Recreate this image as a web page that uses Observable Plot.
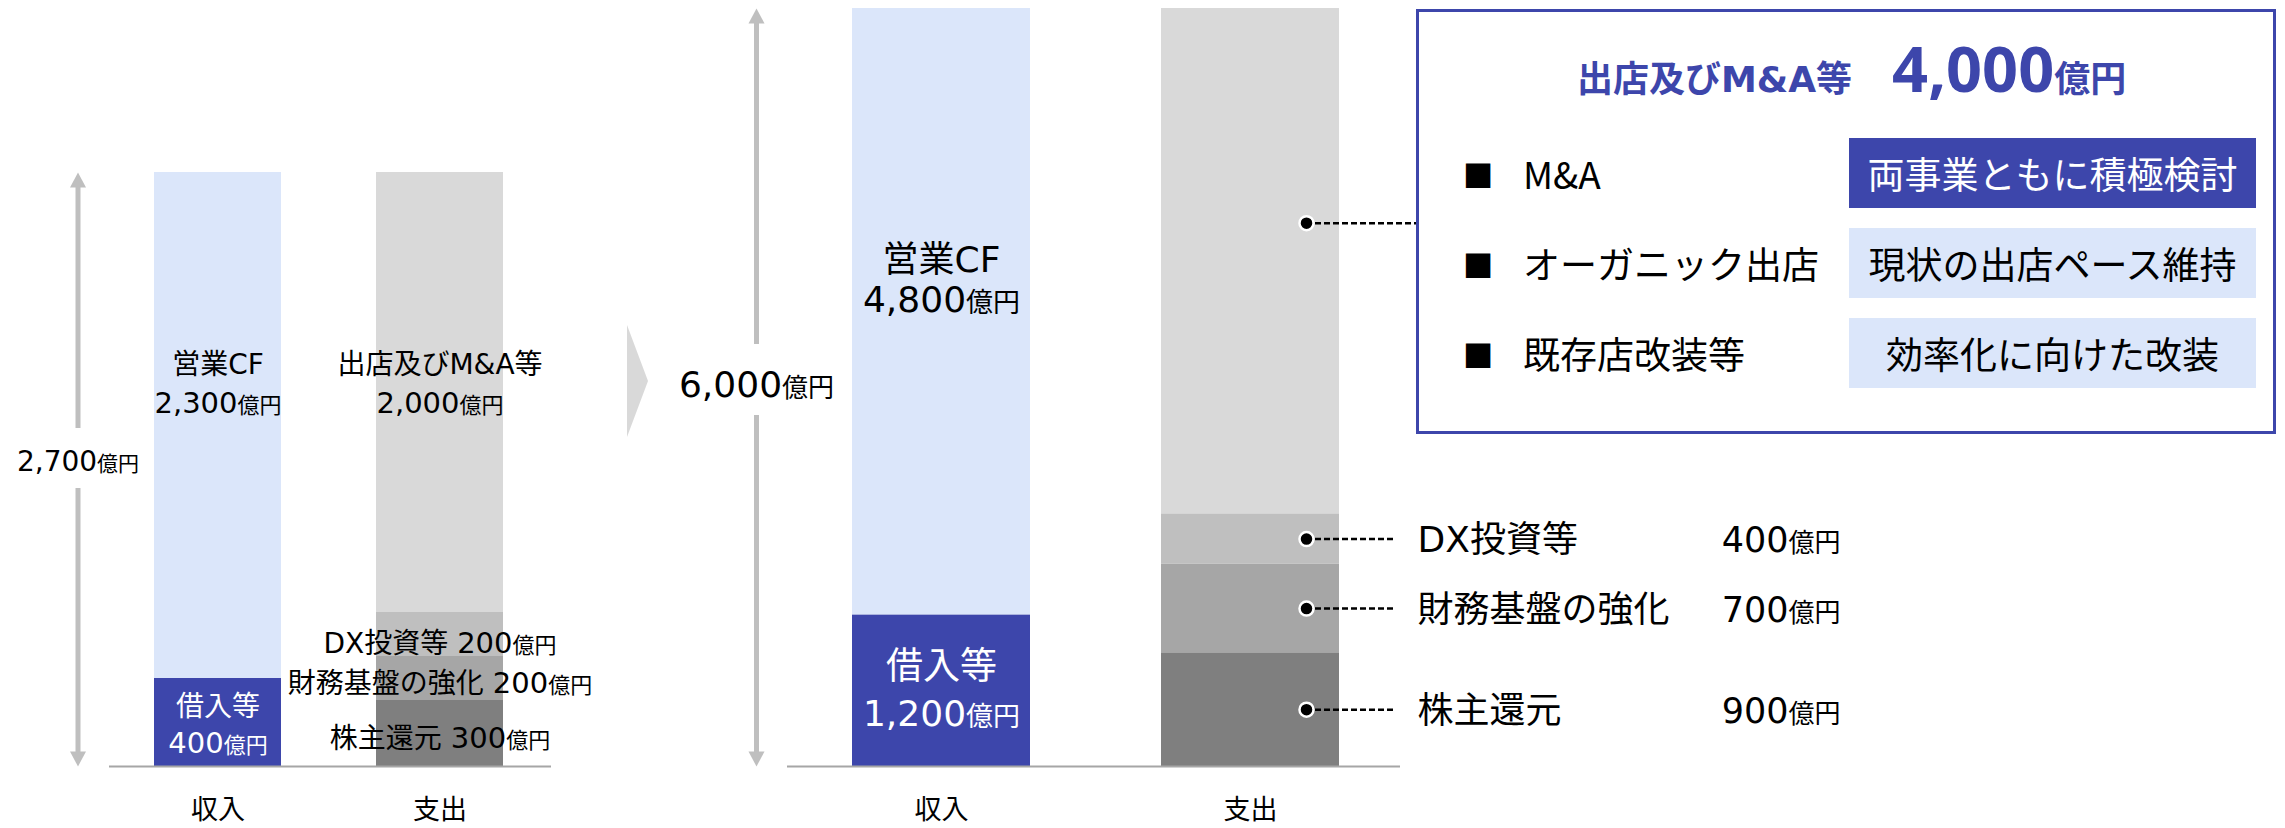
<!DOCTYPE html>
<html>
<head>
<meta charset="utf-8">
<script src="https://cdn.jsdelivr.net/npm/d3@7"></script>
<script src="https://cdn.jsdelivr.net/npm/@observablehq/plot@0.6"></script>
<style>
html, body { margin: 0; padding: 0; background: #fff; }
#root { position: relative; width: 2285px; height: 828px; overflow: hidden; font-family: 'DejaVu Sans', 'Noto Sans CJK JP', sans-serif; }
.wrap { position: absolute; top: 0; height: 828px; }
.chev { position: absolute; left: 627px; top: 325px; width: 21px; height: 112px; background: #d9d9d9; clip-path: polygon(0 0, 100% 50%, 0 100%); }
#box { position: absolute; left: 1416px; top: 9px; width: 860px; height: 425px; border: 3px solid #3d46ab; box-sizing: border-box; background: #fff; }
.ttl { position: absolute; left: 158px; top: 24px; display: flex; align-items: baseline; white-space: nowrap; color: #3d46ab; font-weight: bold; }
.t1 { font-size: 36px; line-height: 1; font-family: 'DejaVu Sans', 'Noto Sans CJK JP', sans-serif; }
.t2 { font-size: 63px; line-height: 1; font-family: 'Noto Sans', sans-serif; margin-left: 40px; }
.t3 { font-size: 36px; line-height: 1; font-family: 'Noto Sans CJK JP', sans-serif; }
.row { position: absolute; left: 0; width: 100%; height: 70px; }
.bullet { position: absolute; left: 44px; top: 0; height: 70px; line-height: 70px; font-size: 32px; font-family: 'DejaVu Sans', sans-serif; }
.lbl { position: absolute; left: 104px; top: 0; height: 70px; line-height: 70px; font-size: 37px; font-family: 'Noto Sans CJK JP', sans-serif; white-space: nowrap; }
.cell { position: absolute; left: 430px; top: 0; width: 407px; height: 70px; display: flex; align-items: center; justify-content: center; background: #dbe6fa; font-size: 37px; font-family: 'Noto Sans CJK JP', sans-serif; white-space: nowrap; }
.cell.hl { background: #3d46ab; color: #fff; }
</style>
</head>
<body>
<div id="root"></div>
<script>
// ---------- data ----------
const categories = ["収入", "支出"];
const incomeItems = ["借入等", "営業CF"];
const expenseItems = ["株主還元", "財務基盤の強化", "DX投資等", "出店及びM&A等"];
const incomeNow = [400, 2300];
const expenseNow = [300, 200, 200, 2000];
const totalNow = 2700;
const incomePlan = [1200, 4800];
const expensePlan = [900, 700, 400, 4000];
const totalPlan = 6000;
const unit = "億円";
const boxTitle = "出店及びM&A等";
const boxAmount = 4000;
const boxItems = ["M&A", "オーガニック出店", "既存店改装等"];
const boxPolicies = ["両事業ともに積極検討", "現状の出店ペース維持", "効率化に向けた改装"];

// ---------- styles ----------
const itemColors = {
  "借入等": "#3d46ab", "営業CF": "#dbe6fa",
  "株主還元": "#7f7f7f", "財務基盤の強化": "#a6a6a6", "DX投資等": "#bfbfbf", "出店及びM&A等": "#d9d9d9"
};
const FONT = "'DejaVu Sans','Noto Sans CJK JP',sans-serif";
const fmt = d3.format(",");
const ctx = document.createElement("canvas").getContext("2d");
const tw = (t, s) => { ctx.font = `${s}px ${FONT}`; return ctx.measureText(t).width; };

function stackRows(incomeVals, expenseVals) {
  const out = [];
  [[incomeItems, incomeVals], [expenseItems, expenseVals]].forEach(([items, vals], k) => {
    let acc = 0;
    items.forEach((item, i) => {
      out.push({cat: categories[k], item, value: vals[i], lo: acc, hi: acc + vals[i], mid: acc + vals[i] / 2});
      acc += vals[i];
    });
  });
  return out;
}
const rowsNow = stackRows(incomeNow, expenseNow);
const rowsPlan = stackRows(incomePlan, expensePlan);
const find = (rows, item) => rows.find(r => r.item === item);

// composite label: parts = [[text, size, gapAfter]]
function label(cat, value, parts, {dx = 0, dy = 0, anchor = "middle", fill = "black"} = {}) {
  const widths = parts.map(([t, s, gap = 0]) => tw(t, s) + gap);
  const total = d3.sum(widths);
  let off = anchor === "middle" ? -total / 2 : anchor === "end" ? -total : 0;
  const big = d3.max(parts, p => p[1]);
  return parts.map(([t, s], i) => {
    const m = Plot.text([t], {
      x: () => cat, y: () => value, text: d => d,
      textAnchor: "start", lineAnchor: "bottom",
      fontSize: s, fill, dx: dx + off, dy: dy + 0.37 * big
    });
    off += widths[i];
    return m;
  });
}
const amount = (v, ns, us) => [[fmt(v), ns], [unit, us]];

const triUp = {draw(c) { c.moveTo(0, 0); c.lineTo(8, 15); c.lineTo(-8, 15); c.closePath(); }};
const triDown = {draw(c) { c.moveTo(0, 0); c.lineTo(8, -15); c.lineTo(-8, -15); c.closePath(); }};

function spanArrow(total, {dx, gapUp, gapDown}) {
  const o = {x: () => categories[0], dx, stroke: "#bfbfbf", strokeWidth: 5};
  return [
    Plot.ruleX([total], {...o, y1: d => d, y2: d => d / 2, insetTop: 12, insetBottom: gapUp}),
    Plot.ruleX([total], {...o, y1: d => d / 2, y2: () => 0, insetTop: gapDown, insetBottom: 12}),
    Plot.dot([total], {x: () => categories[0], y: d => d, dx, symbol: triUp, r: 8, fill: "#bfbfbf"}),
    Plot.dot([0], {x: () => categories[0], y: d => d, dx, symbol: triDown, r: 8, fill: "#bfbfbf"})
  ];
}

const colorScale = {domain: Object.keys(itemColors), range: Object.values(itemColors)};
const root = d3.select("#root");

// ---------- left chart (current) ----------
{
  const cf = find(rowsNow, "営業CF"), loan = find(rowsNow, "借入等"), store = find(rowsNow, "出店及びM&A等");
  const dxr = find(rowsNow, "DX投資等"), fin = find(rowsNow, "財務基盤の強化"), sh = find(rowsNow, "株主還元");
  const sp = tw(" ", 28);
  const chart = Plot.plot({
    width: 620, height: 828, marginTop: 172, marginBottom: 62, marginLeft: 154, marginRight: 117,
    style: {fontFamily: FONT, background: "transparent", overflow: "visible"},
    x: {type: "band", domain: categories, paddingInner: 0.428, paddingOuter: 0, axis: null},
    y: {domain: [0, totalNow], axis: null},
    color: colorScale,
    marks: [
      Plot.barY(rowsNow, {x: "cat", y1: "lo", y2: "hi", fill: "item"}),
      Plot.ruleY([0], {stroke: "#a6a6a6", strokeWidth: 2, insetLeft: -45, insetRight: -48}),
      ...spanArrow(totalNow, {dx: -140, gapUp: 41, gapDown: 19}),
      ...label(categories[0], totalNow / 2, amount(totalNow, 28, 21), {dx: -140, dy: -9}),
      ...label(cf.cat, cf.mid, [[cf.item, 28]], {dy: -62}),
      ...label(cf.cat, cf.mid, amount(cf.value, 29, 22), {dy: -23}),
      ...label(store.cat, store.mid, [[store.item, 28]], {dy: -29}),
      ...label(store.cat, store.mid, amount(store.value, 29, 22), {dy: 10}),
      ...label(loan.cat, loan.mid, [[loan.item, 28]], {dy: -17, fill: "white"}),
      ...label(loan.cat, loan.mid, amount(loan.value, 29, 22), {dy: 20, fill: "white"}),
      ...label(dxr.cat, dxr.mid, [[dxr.item, 28, sp], [fmt(dxr.value), 29], [unit, 22]], {dy: 8}),
      ...label(fin.cat, fin.mid, [[fin.item, 28, sp], [fmt(fin.value), 29], [unit, 22]], {dy: 4}),
      ...label(sh.cat, sh.mid, [[sh.item, 28, sp], [fmt(sh.value), 29], [unit, 22]], {dy: 4}),
      ...categories.flatMap(c => label(c, 0, [[c, 27]], {dy: 43}))
    ]
  });
  root.append("div").attr("class", "wrap").style("left", "0px").style("width", "620px").node().appendChild(chart);
}

// ---------- right chart (plan) ----------
{
  const cf = find(rowsPlan, "営業CF"), loan = find(rowsPlan, "借入等"), store = find(rowsPlan, "出店及びM&A等");
  const callouts = expenseItems.filter(i => i !== store.item).map(i => find(rowsPlan, i));
  const dash = {stroke: "black", strokeWidth: 2.5, strokeDasharray: "6,3", insetLeft: 145};
  const dotStyle = {r: 7, fill: "black", stroke: "white", strokeWidth: 2.5, dx: 56};
  const chart = Plot.plot({
    width: 1625, height: 828, marginTop: 8, marginBottom: 62, marginLeft: 192, marginRight: 946,
    style: {fontFamily: FONT, background: "transparent", overflow: "visible"},
    x: {type: "band", domain: categories, paddingInner: 0.424, paddingOuter: 0, axis: null},
    y: {domain: [0, totalPlan], axis: null},
    color: colorScale,
    marks: [
      Plot.barY(rowsPlan, {x: "cat", y1: "lo", y2: "hi", fill: "item"}),
      Plot.ruleY([0], {stroke: "#a6a6a6", strokeWidth: 2, insetLeft: -65, insetRight: -61}),
      ...spanArrow(totalPlan, {dx: -185, gapUp: 43, gapDown: 28}),
      ...label(categories[0], totalPlan / 2, amount(totalPlan, 36, 26), {dx: -185, dy: -4}),
      ...label(cf.cat, cf.mid, [[cf.item, 36]], {dy: -53}),
      ...label(cf.cat, cf.mid, amount(cf.value, 36, 27), {dy: -13}),
      ...label(loan.cat, loan.mid, [[loan.item, 37]], {dy: -25, fill: "white"}),
      ...label(loan.cat, loan.mid, amount(loan.value, 36, 27), {dy: 22, fill: "white"}),
      Plot.tickY(callouts, {x: "cat", y: "mid", ...dash, insetRight: -54}),
      Plot.tickY([store], {x: "cat", y: "mid", ...dash, insetRight: -77, dy: -38}),
      Plot.dot(callouts, {x: "cat", y: "mid", ...dotStyle}),
      Plot.dot([store], {x: "cat", y: "mid", ...dotStyle, dy: -38}),
      ...callouts.flatMap(r => label(r.cat, r.mid, [[r.item, 36]], {dx: 167, anchor: "start"})),
      ...callouts.flatMap(r => label(r.cat, r.mid, amount(r.value, 35, 26), {dx: 590, anchor: "end"})),
      ...categories.flatMap(c => label(c, 0, [[c, 27]], {dy: 43}))
    ]
  });
  root.append("div").attr("class", "wrap").style("left", "660px").style("width", "1625px").node().appendChild(chart);
}

// ---------- chevron & detail box ----------
root.append("div").attr("class", "chev");
const box = root.append("div").attr("id", "box");
const ttl = box.append("div").attr("class", "ttl");
ttl.append("span").attr("class", "t1").text(boxTitle);
ttl.append("span").attr("class", "t2").text(fmt(boxAmount));
ttl.append("span").attr("class", "t3").text(unit);
boxItems.forEach((item, i) => {
  const r = box.append("div").attr("class", "row").style("top", `${126 + i * 90}px`);
  r.append("span").attr("class", "bullet").text("■");
  r.append("span").attr("class", "lbl").text(item);
  r.append("div").attr("class", i === 0 ? "cell hl" : "cell").text(boxPolicies[i]);
});
</script>
</body>
</html>
